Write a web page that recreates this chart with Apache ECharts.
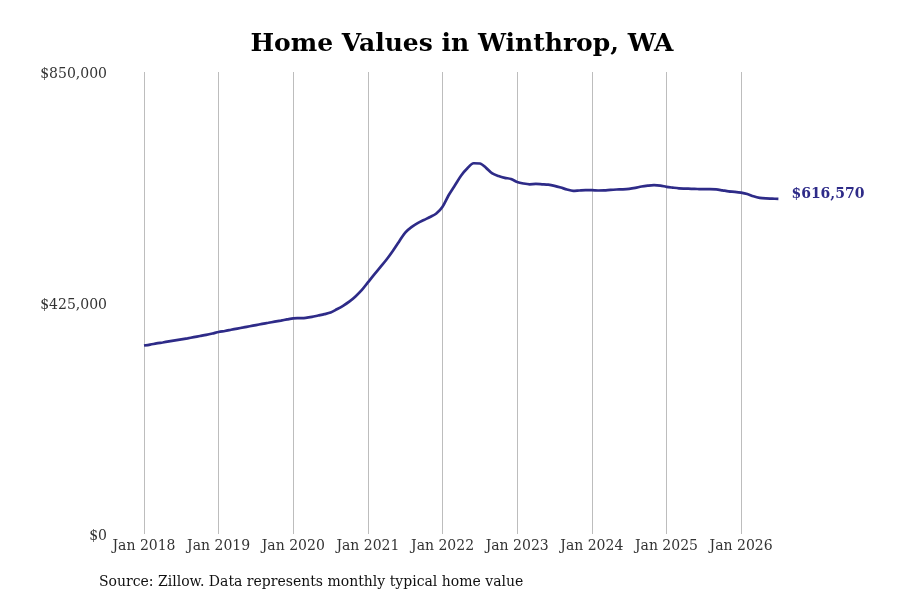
<!DOCTYPE html>
<html>
<head>
<meta charset="utf-8">
<script src="https://cdn.jsdelivr.net/npm/echarts@6/dist/echarts.min.js"></script>
<style>
  html, body { margin: 0; padding: 0; background: #fff; }
  #chart { width: 900px; height: 600px; }
</style>
</head>
<body>
<div id="chart"></div>
<script>
// monthly typical home value, Jan 2018 .. Jul 2026
var years = [2018, 2019, 2020, 2021, 2022, 2023, 2024, 2025, 2026]
var monthNames = ['Jan', 'Feb', 'Mar', 'Apr', 'May', 'Jun', 'Jul', 'Aug', 'Sep', 'Oct', 'Nov', 'Dec']

var values2018 = [346800, 348500, 350600, 352400, 354300, 356200, 358100, 360000, 362100, 364200, 366300, 368800]
var values2019 = [371600, 373500, 375700, 377900, 380100, 382300, 384400, 386500, 388600, 390700, 392700, 394800]
var values2020 = [396800, 397200, 397800, 399500, 402000, 404500, 407500, 413400, 419800, 427400, 437100, 448600]
var values2021 = [462900, 477300, 491000, 505000, 520700, 537800, 554700, 564600, 572000, 577700, 583200, 589700]
var values2022 = [602200, 623700, 641700, 659600, 672800, 682100, 681700, 673600, 663300, 658600, 655300, 653100]
var values2023 = [647600, 644900, 643400, 644000, 643400, 642700, 640600, 637500, 633800, 631400, 632000, 632500]
var values2024 = [632500, 632000, 632300, 633200, 633800, 634200, 635100, 636900, 639300, 640800, 641700, 641100]
var values2025 = [638800, 637300, 636000, 635500, 635100, 634700, 634400, 634400, 634000, 632300, 630500, 629600]
var values2026 = [628100, 625500, 621300, 618500, 617400, 617000, 616570]

var yTicks = [0, 425000, 850000]

var values = [].concat(values2018, values2019, values2020, values2021, values2022,
  values2023, values2024, values2025, values2026)

var categories = []
years.forEach(function (y) {
  monthNames.forEach(function (m) { categories.push(m + ' ' + y) })
})
categories = categories.slice(0, values.length)

var serif = 'DejaVu Serif'
var lineColor = '#2e2b88'

function isJan (idx) { return idx % 12 === 0 }

function money (v) {
  return '$' + v.toString().replace(/\B(?=(\d{3})+(?!\d))/g, ',')
}

var chart = echarts.init(document.getElementById('chart'))
chart.setOption({
  animation: false,
  title: {
    text: 'Home Values in Winthrop, WA',
    left: 457,
    top: 27,
    textAlign: 'center',
    textStyle: { fontFamily: serif, fontWeight: 'bold', fontSize: 25, color: '#000' }
  },
  graphic: [{
    type: 'text',
    left: 99,
    top: 575,
    style: {
      text: 'Source: Zillow. Data represents monthly typical home value',
      font: '14px "DejaVu Serif"',
      fill: '#111'
    }
  }],
  grid: { left: 144, right: 121.6, top: 72, bottom: 66 },
  xAxis: {
    type: 'category',
    data: categories,
    boundaryGap: false,
    axisLine: { show: false },
    axisTick: { show: false },
    axisLabel: {
      interval: function (idx) { return isJan(idx) },
      formatter: function (v) { return v },
      fontFamily: serif,
      fontSize: 14,
      color: '#333',
      margin: 5
    },
    splitLine: {
      show: true,
      interval: function (idx) { return isJan(idx) },
      lineStyle: { color: '#bdbdbd', width: 1 }
    }
  },
  yAxis: {
    type: 'value',
    min: yTicks[0],
    max: yTicks[yTicks.length - 1],
    interval: yTicks[1] - yTicks[0],
    axisLine: { show: false },
    axisTick: { show: false },
    splitLine: { show: false },
    axisLabel: {
      formatter: function (v) { return '{v|' + money(v) + '}' },
      margin: 37,
      rich: {
        v: {
          fontFamily: serif,
          fontSize: 14,
          color: '#333',
          padding: [4, 0, 0, 0]
        }
      }
    }
  },
  series: [{
    type: 'line',
    data: values,
    smooth: 0.3,
    showSymbol: false,
    lineStyle: { color: lineColor, width: 2.7 },
    endLabel: {
      show: true,
      formatter: function (p) { return money(p.value) },
      fontFamily: serif,
      fontWeight: 'bold',
      fontSize: 14,
      color: lineColor,
      distance: 13,
      offset: [0, -5]
    }
  }]
})
</script>
</body>
</html>
